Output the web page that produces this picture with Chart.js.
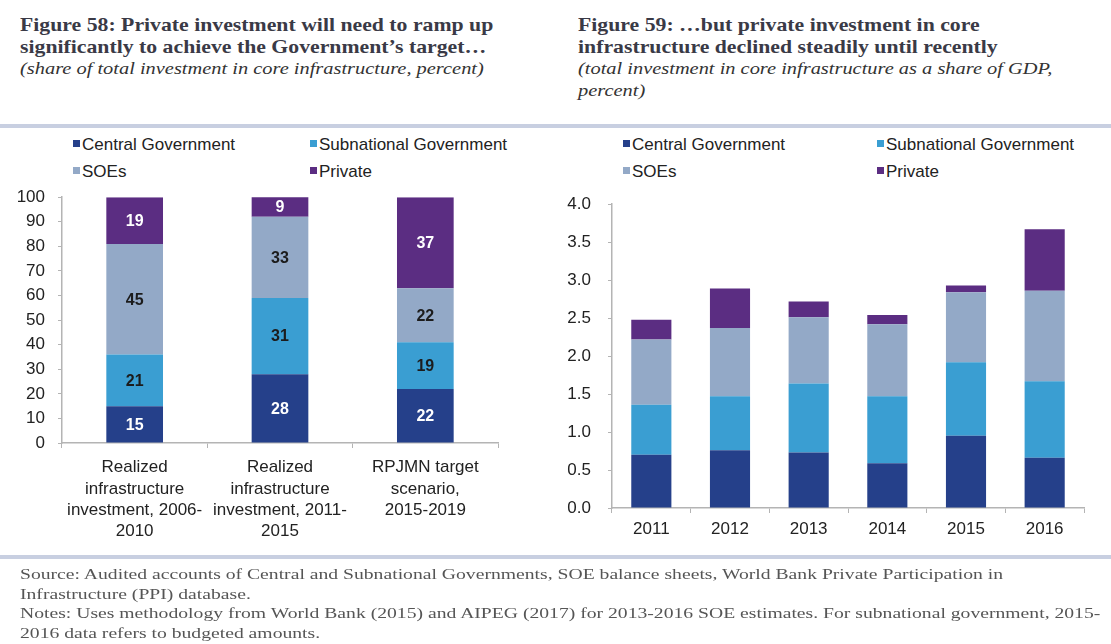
<!DOCTYPE html>
<html>
<head>
<meta charset="utf-8">
<title>Core infrastructure investment</title>
<script src="https://cdn.jsdelivr.net/npm/chart.js@4.4.1/dist/chart.umd.min.js"></script>
<style>
  body { margin: 0; width: 1111px; height: 644px; overflow: hidden; position: relative; background: #fff;
         font-family: "Liberation Sans", Arial, sans-serif; }
  .fig { position: absolute; font-family: "Liberation Serif", "Times New Roman", serif; color: #3a3a46; }
  .fig .t { font-weight: bold; font-size: 19px; line-height: 22px; white-space: nowrap;
            transform: scaleX(1.145); transform-origin: left top; }
  .fig .s { font-style: italic; font-size: 17px; line-height: 22px; color: #333; white-space: nowrap;
            transform: scaleX(1.2); transform-origin: left top; }
  .rule { position: absolute; left: 0; width: 1111px; height: 4px; background: #c8cfe1; }
  .legend { position: absolute; font-size: 17px; color: #222; }
  .legend span { position: absolute; white-space: nowrap; line-height: 20px; }
  .legend i { display: inline-block; width: 7px; height: 7px; margin-right: 2px; vertical-align: 3px; }
  canvas { position: absolute; }
  .notes { position: absolute; left: 20px; top: 565px; font-family: "Liberation Serif", serif; font-size: 15px;
           line-height: 19.5px; color: #555; white-space: nowrap;
           transform: scaleX(1.31); transform-origin: left top; }
</style>
</head>
<body>

<div class="fig" style="left:20px; top:14px;">
  <div class="t">Figure 58: Private investment will need to ramp up<br>significantly to achieve the Government’s target…</div>
  <div class="s">(share of total investment in core infrastructure, percent)</div>
</div>
<div class="fig" style="left:578px; top:14px;">
  <div class="t">Figure 59: …but private investment in core<br>infrastructure declined steadily until recently</div>
  <div class="s">(total investment in core infrastructure as a share of GDP,<br>percent)</div>
</div>

<div class="rule" style="top:124px;"></div>

<div class="legend" id="legend-share"></div>
<div class="legend" id="legend-gdp"></div>

<canvas id="share" width="520" height="380" style="left:0; top:174px;"></canvas>
<canvas id="gdp" width="551" height="380" style="left:560px; top:177px;"></canvas>

<div class="rule" style="top:555px;"></div>

<div class="notes">
  Source: Audited accounts of Central and Subnational Governments, SOE balance sheets, World Bank Private Participation in<br>
  Infrastructure (PPI) database.<br>
  Notes: Uses methodology from World Bank (2015) and AIPEG (2017) for 2013-2016 SOE estimates. For subnational government, 2015-<br>
  2016 data refers to budgeted amounts.
</div>

<script>
// series names and colours, shared by both charts
const seriesNames = ["Central Government", "Subnational Government", "SOEs", "Private"]
const seriesColours = ["#25408a", "#3a9ed2", "#93a9c7", "#5b2d82"]
const labelColours = ["#ffffff", "#1c1c1c", "#1c1c1c", "#ffffff"]

// Figure 58: share of total investment (percent)
const shareCategories = [
  ["Realized", "infrastructure", "investment, 2006-", "2010"],
  ["Realized", "infrastructure", "investment, 2011-", "2015"],
  ["RPJMN target", "scenario,", "2015-2019"],
]
const shareCentral = [15, 28, 22]
const shareSubnational = [21, 31, 19]
const shareSoes = [45, 33, 22]
const sharePrivate = [19, 9, 37]

// Figure 59: investment as a share of GDP (percent)
const years = ["2011", "2012", "2013", "2014", "2015", "2016"]
const gdpCentral = [0.70, 0.76, 0.73, 0.59, 0.95, 0.66]
const gdpSubnational = [0.66, 0.71, 0.91, 0.88, 0.97, 1.01]
const gdpSoes = [0.86, 0.90, 0.87, 0.95, 0.92, 1.19]
const gdpPrivate = [0.26, 0.52, 0.21, 0.12, 0.09, 0.81]

// legends are laid out in two columns, so build them by hand
function buildLegend(id, left, colGap) {
  const box = document.getElementById(id)
  seriesNames.forEach((name, i) => {
    const item = document.createElement("span")
    item.style.left = (left + (i % 2) * colGap) + "px"
    item.style.top = (135 + Math.floor(i / 2) * 27) + "px"
    item.innerHTML = `<i style="background:${seriesColours[i]}"></i>${name}`
    box.appendChild(item)
  })
}
buildLegend("legend-share", 73, 237)
buildLegend("legend-gdp", 623, 254)

// writes each segment's value in the middle of the segment
const segmentLabels = {
  id: "segmentLabels",
  afterDatasetsDraw(chart, args, opts) {
    if (!opts.show) return
    const ctx = chart.ctx
    ctx.save()
    ctx.font = 'bold 16px "Liberation Sans", Arial, sans-serif'
    ctx.textAlign = "center"
    ctx.textBaseline = "middle"
    chart.data.datasets.forEach((ds, i) => {
      chart.getDatasetMeta(i).data.forEach((bar, j) => {
        const top = Math.max(bar.y, chart.chartArea.top)
        ctx.fillStyle = labelColours[i]
        ctx.fillText(ds.data[j], bar.x, (top + bar.base) / 2 + 1)
      })
    })
    ctx.restore()
  }
}

const tickFont = { family: '"Liberation Sans", Arial, sans-serif', size: 17 }

function makeDatasets(series, barPct) {
  return series.map((data, i) => ({
    label: seriesNames[i],
    data: data,
    backgroundColor: seriesColours[i],
    barPercentage: barPct,
    categoryPercentage: 1,
  }))
}

function stackedBar(canvasId, labels, series, cfg) {
  return new Chart(document.getElementById(canvasId), {
    type: "bar",
    data: { labels: labels, datasets: makeDatasets(series, cfg.barPct) },
    plugins: [segmentLabels],
    options: {
      responsive: false,
      animation: false,
      layout: { padding: { top: cfg.top, right: cfg.right, left: 0, bottom: 0 } },
      plugins: {
        legend: { display: false },
        tooltip: { enabled: false },
        segmentLabels: { show: cfg.values },
      },
      scales: {
        x: {
          stacked: true,
          afterFit: (s) => { s.height = cfg.xHeight },
          border: { color: "#b4b4b4", width: 1.5 },
          grid: { drawOnChartArea: false, tickLength: 5, color: "#b4b4b4" },
          ticks: { color: "#222", font: Object.assign({ lineHeight: 1.25 }, tickFont), padding: cfg.xPad, maxRotation: 0 },
        },
        y: {
          stacked: true,
          min: 0,
          max: cfg.max,
          afterFit: (s) => { s.width = cfg.yWidth },
          border: { color: "#b4b4b4", width: 1.5 },
          grid: { drawOnChartArea: false, tickLength: 4, color: "#b4b4b4" },
          ticks: { color: "#222", font: tickFont, stepSize: cfg.step, padding: cfg.yPad, callback: cfg.fmt },
        },
      },
    },
  })
}

stackedBar("share", shareCategories, [shareCentral, shareSubnational, shareSoes, sharePrivate], {
  barPct: 0.39, top: 11, right: 22, xHeight: 111, yWidth: 62, max: 100, step: 10,
  xPad: 9, yPad: 13, values: true, fmt: (v) => v,
})

stackedBar("gdp", years, [gdpCentral, gdpSubnational, gdpSoes, gdpPrivate], {
  barPct: 0.51, top: 20, right: 27, xHeight: 49, yWidth: 52, max: 4, step: 0.5,
  xPad: 6, yPad: 17, values: false, fmt: (v) => v.toFixed(1),
})
</script>
</body>
</html>
